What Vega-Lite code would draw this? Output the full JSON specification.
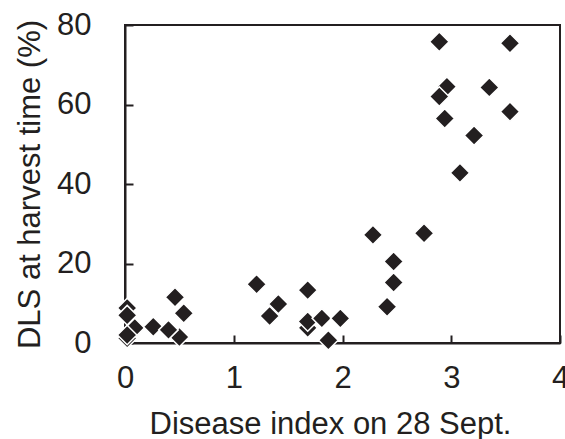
{
  "$schema": "https://vega.github.io/schema/vega-lite/v6.json",
  "width": 435,
  "height": 318,
  "autosize": {"type": "none"},
  "padding": {"left": 125, "top": 25, "right": 5, "bottom": 96},
  "background": "white",
  "view": {"stroke": "#231f20", "strokeWidth": 2},
  "config": {
    "font": "Liberation Sans",
    "axis": {
      "domainColor": "#231f20",
      "domainWidth": 2,
      "tickColor": "#231f20",
      "tickWidth": 2,
      "tickSize": -8,
      "grid": false,
      "labelFont": "Liberation Sans",
      "labelFontSize": 31,
      "labelColor": "#231f20",
      "titleFont": "Liberation Sans",
      "titleFontSize": 31,
      "titleFontWeight": "normal",
      "titleColor": "#231f20"
    }
  },
  "data": {
    "values": [
      {"di": 0.02, "dls": 8.8},
      {"di": 0.02, "dls": 7.0},
      {"di": 0.09, "dls": 3.8},
      {"di": 0.02, "dls": 1.2},
      {"di": 0.02, "dls": 2.0},
      {"di": 0.26, "dls": 4.1},
      {"di": 0.5, "dls": 1.5},
      {"di": 0.40, "dls": 3.3},
      {"di": 0.46, "dls": 11.5},
      {"di": 0.54, "dls": 7.5},
      {"di": 1.21, "dls": 14.8},
      {"di": 1.41, "dls": 9.8},
      {"di": 1.33, "dls": 6.8},
      {"di": 1.68, "dls": 13.3},
      {"di": 1.68, "dls": 3.8},
      {"di": 1.68, "dls": 5.4},
      {"di": 1.81, "dls": 6.2},
      {"di": 1.98, "dls": 6.2},
      {"di": 1.87, "dls": 0.7},
      {"di": 2.28, "dls": 27.2},
      {"di": 2.75, "dls": 27.6},
      {"di": 2.47, "dls": 20.5},
      {"di": 2.47, "dls": 15.2},
      {"di": 2.41, "dls": 9.1},
      {"di": 2.89, "dls": 75.8},
      {"di": 3.54, "dls": 75.4},
      {"di": 2.96, "dls": 64.5},
      {"di": 2.89, "dls": 62.0},
      {"di": 3.35, "dls": 64.3},
      {"di": 3.54, "dls": 58.2},
      {"di": 2.94, "dls": 56.5},
      {"di": 3.21, "dls": 52.2},
      {"di": 3.08, "dls": 42.8}
    ]
  },
  "mark": {
    "type": "point",
    "shape": "diamond",
    "filled": true,
    "fill": "#231f20",
    "stroke": "white",
    "strokeWidth": 1.5,
    "size": 380,
    "opacity": 1
  },
  "encoding": {
    "x": {
      "field": "di",
      "type": "quantitative",
      "scale": {"domain": [0, 4], "nice": false, "zero": false},
      "axis": {
        "values": [0, 1, 2, 3, 4],
        "title": "Disease index on 28 Sept.",
        "labelPadding": 28.5,
        "titlePadding": 16,
        "titleX": 205,
        "labelFlush": false
      }
    },
    "y": {
      "field": "dls",
      "type": "quantitative",
      "scale": {"domain": [0, 80], "nice": false},
      "axis": {
        "values": [0, 20, 40, 60, 80],
        "title": "DLS at harvest time (%)",
        "labelPadding": 42,
        "titlePadding": 10,
        "labelFlush": false
      }
    }
  }
}
